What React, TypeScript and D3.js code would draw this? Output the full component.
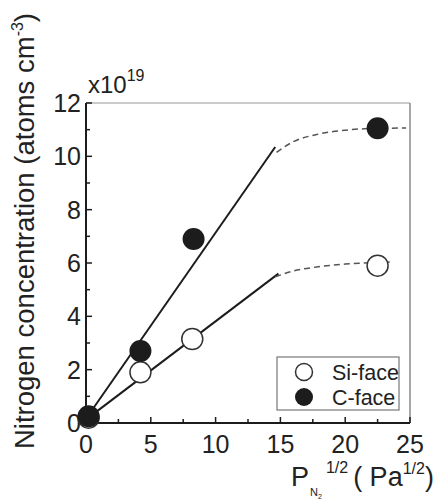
import * as d3 from 'd3';

const MARGIN = { top: 103, right: 23, bottom: 80, left: 86 };
const WIDTH = 433;
const HEIGHT = 503;

// measured data, x = sqrt(P_N2) in Pa^1/2, y in 1e19 atoms/cm3
const siX = [0.2, 4.2, 8.2, 22.5];
const siY = [0.2, 1.9, 3.15, 5.9];
const cX = [0.2, 4.2, 8.3, 22.5];
const cY = [0.25, 2.7, 6.9, 11.05];

// linear fits (solid)
const cFit = [[0.2, 0.3], [14.6, 10.35]];
const siFit = [[0.2, 0.2], [14.85, 5.6]];

// saturation guides (dashed)
const cSat = [[14.7, 10.15], [16, 10.55], [17.8, 10.82], [20, 10.98], [22.5, 11.05], [24.7, 11.06]];
const siSat = [[14.6, 5.48], [16, 5.7], [17.8, 5.85], [20, 5.96], [22.5, 6.02], [23.6, 6.04]];

const xTicks = [0, 5, 10, 15, 20, 25];
const xMinor = [2.5, 7.5, 12.5, 17.5, 22.5];
const yTicks = [0, 2, 4, 6, 8, 10, 12];
const yMinor = [1, 3, 5, 7, 9, 11];

const FONT = 'Liberation Sans, Arial, sans-serif';

const App = () => {
  const boundsWidth = WIDTH - MARGIN.left - MARGIN.right;
  const boundsHeight = HEIGHT - MARGIN.top - MARGIN.bottom;

  const xScale = d3.scaleLinear().domain([0, 25]).range([0, boundsWidth]);
  const yScale = d3.scaleLinear().domain([0, 12]).range([boundsHeight, 0]);

  const line = d3
    .line<number[]>()
    .x(d => xScale(d[0]))
    .y(d => yScale(d[1]));
  const curve = d3
    .line<number[]>()
    .x(d => xScale(d[0]))
    .y(d => yScale(d[1]))
    .curve(d3.curveMonotoneX);

  const ink = '#1c1c1c';

  return (
    <svg width={WIDTH} height={HEIGHT} style={{ position: 'absolute', left: 0, top: 0 }}>
      <rect width={WIDTH} height={HEIGHT} fill="white" />
      <g transform={`translate(${MARGIN.left},${MARGIN.top})`}>
        {/* frame */}
        <line x1={0} x2={boundsWidth} y1={0} y2={0} stroke="#b8b8b8" strokeWidth={1.5} />
        <line x1={boundsWidth} x2={boundsWidth} y1={0} y2={boundsHeight} stroke="#8a8a8a" strokeWidth={1.5} />
        <line x1={0} x2={0} y1={0} y2={boundsHeight} stroke={ink} strokeWidth={2} />
        <line x1={0} x2={boundsWidth} y1={boundsHeight} y2={boundsHeight} stroke={ink} strokeWidth={2} />

        {xTicks.map(t => (
          <g key={`xt${t}`}>
            <line x1={xScale(t)} x2={xScale(t)} y1={boundsHeight} y2={boundsHeight - 6} stroke={ink} strokeWidth={1.5} />
            <text
              x={xScale(t)}
              y={boundsHeight + 30}
              textAnchor="middle"
              fontSize={25}
              fontFamily={FONT}
              fill="#222"
            >
              {t}
            </text>
          </g>
        ))}
        {xMinor.map(t => (
          <line key={`xm${t}`} x1={xScale(t)} x2={xScale(t)} y1={boundsHeight} y2={boundsHeight - 4} stroke={ink} strokeWidth={1.5} />
        ))}
        {yTicks.map(t => (
          <g key={`yt${t}`}>
            <line x1={0} x2={6} y1={yScale(t)} y2={yScale(t)} stroke={ink} strokeWidth={1.5} />
            <text
              x={-5}
              y={yScale(t)}
              dy="0.36em"
              textAnchor="end"
              fontSize={25}
              fontFamily={FONT}
              fill="#222"
            >
              {t}
            </text>
          </g>
        ))}
        {yMinor.map(t => (
          <line key={`ym${t}`} x1={0} x2={4} y1={yScale(t)} y2={yScale(t)} stroke={ink} strokeWidth={1.5} />
        ))}

        {/* fits */}
        <path d={line(cFit) ?? ''} fill="none" stroke={ink} strokeWidth={2} />
        <path d={line(siFit) ?? ''} fill="none" stroke={ink} strokeWidth={2} />
        <path d={curve(cSat) ?? ''} fill="none" stroke="#555" strokeWidth={1.5} strokeDasharray="6,4" />
        <path d={curve(siSat) ?? ''} fill="none" stroke="#555" strokeWidth={1.5} strokeDasharray="6,4" />

        {/* markers */}
        {siX.map((x, i) => (
          <circle key={`si${i}`} cx={xScale(x)} cy={yScale(siY[i])} r={10.5} fill="white" stroke="#333" strokeWidth={1.5} />
        ))}
        {cX.map((x, i) => (
          <circle key={`c${i}`} cx={xScale(x)} cy={yScale(cY[i])} r={11} fill={ink} />
        ))}

        {/* legend */}
        <g transform={`translate(${boundsWidth - 133},${boundsHeight - 66})`}>
          <rect x={0} y={0} width={122} height={53} fill="white" stroke="#777" strokeWidth={1.2} />
          <circle cx={27} cy={15} r={8.5} fill="white" stroke="#333" strokeWidth={1.5} />
          <text x={55} y={15} dy="0.36em" fontSize={21.5} fontFamily={FONT} fill="#222">
            Si-face
          </text>
          <circle cx={27} cy={40} r={9} fill={ink} />
          <text x={55} y={40} dy="0.36em" fontSize={21.5} fontFamily={FONT} fill="#222">
            C-face
          </text>
        </g>

        {/* multiplier */}
        <text x={2} y={-10} fontSize={24} fontFamily={FONT} fill="#222">
          x10
          <tspan fontSize={16} dy={-12}>
            19
          </tspan>
        </text>
      </g>

      {/* y title */}
      <text
        transform="translate(34,231) rotate(-90)"
        textAnchor="middle"
        fontSize={27.5}
        fontFamily={FONT}
        fill="#222"
      >
        Nitrogen concentration (atoms cm
        <tspan fontSize={16} dy={-11}>
          -3
        </tspan>
        <tspan dy={11}>)</tspan>
      </text>

      {/* x title */}
      <text x={291} y={486} fontSize={27} fontFamily={FONT} fill="#222">
        P
        <tspan fontSize={11} dx={1} dy={10}>
          N
        </tspan>
        <tspan fontSize={7} dy={3}>
          2
        </tspan>
        <tspan fontSize={16} dx={4} dy={-26}>
          1/2
        </tspan>
        <tspan dx={5} dy={13}>
          ( Pa
        </tspan>
        <tspan fontSize={16} dy={-12}>
          1/2
        </tspan>
        <tspan dy={12}>)</tspan>
      </text>
    </svg>
  );
};

export default App;
